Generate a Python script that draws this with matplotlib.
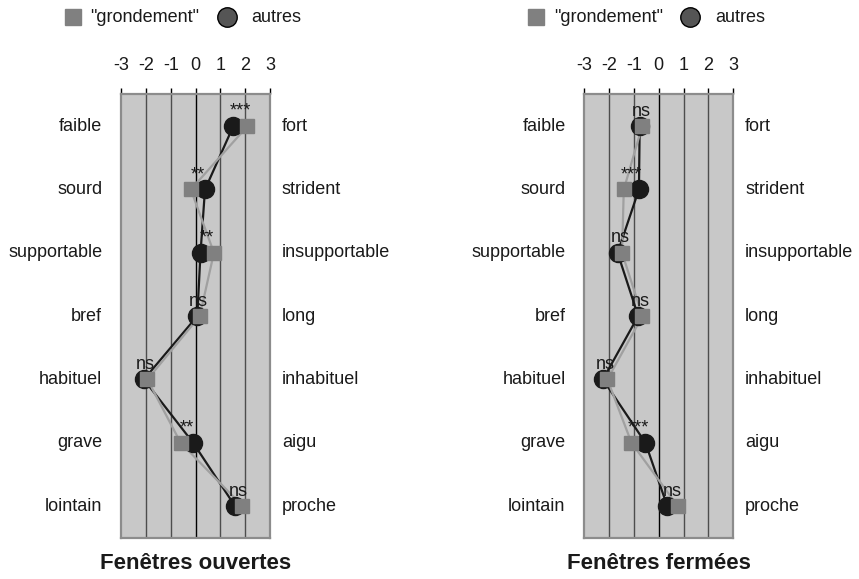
import matplotlib
matplotlib.use("Agg")
import matplotlib.pyplot as plt
from matplotlib.lines import Line2D

plt.rcParams['font.family'] = ['Liberation Sans', 'DejaVu Sans']

# Semantic differential scales
left_words = ["faible", "sourd", "supportable", "bref", "habituel", "grave", "lointain"]
right_words = ["fort", "strident", "insupportable", "long", "inhabituel", "aigu", "proche"]
scale_ticks = [-3, -2, -1, 0, 1, 2, 3]

# Fenêtres ouvertes
open_autres = [1.52, 0.38, 0.20, 0.07, -2.08, -0.10, 1.59]
open_grondement = [2.09, -0.19, 0.74, 0.17, -1.94, -0.60, 1.89]
open_sig = ["***", "**", "**", "ns", "ns", "**", "ns"]

# Fenêtres fermées
closed_autres = [-0.77, -0.80, -1.66, -0.83, -2.25, -0.54, 0.34]
closed_grondement = [-0.67, -1.41, -1.48, -0.66, -2.07, -1.10, 0.76]
closed_sig = ["ns", "***", "ns", "ns", "ns", "***", "ns"]

titles = ["Fenêtres ouvertes", "Fenêtres fermées"]

PANEL = "#c8c8c8"
EDGE = "#8c8c8c"
GRID = "#4d4d4d"
DARK = "#1a1a1a"
SQ = "#808080"
SQLINE = "#a0a0a0"
FS = 13

fig = plt.figure(figsize=(8.59, 5.79), dpi=100)

ax_lefts = [0.1409, 0.6802]
ax_w = 0.1735
ax_b = 0.0713
ax_h = 0.7655

panels = [
    (open_autres, open_grondement, open_sig, titles[0]),
    (closed_autres, closed_grondement, closed_sig, titles[1]),
]

rows = list(range(len(left_words)))

for x0, (autres, gron, sig, title) in zip(ax_lefts, panels):
    ax = fig.add_axes([x0, ax_b, ax_w, ax_h])
    ax.set_facecolor(PANEL)
    ax.set_xlim(-3, 3)
    ax.set_ylim(len(rows) - 0.5, -0.5)

    for v in scale_ticks[1:-1]:
        ax.axvline(v, color="black" if v == 0 else GRID, lw=1.0, zorder=1)

    for s in ax.spines.values():
        s.set_color(EDGE)
        s.set_linewidth(1.6)

    ax.xaxis.tick_top()
    ax.set_xticks(scale_ticks)
    ax.set_xticklabels([str(t) for t in scale_ticks])
    ax.tick_params(axis="x", direction="out", length=4.5, width=1.0,
                   color="black", pad=10, labelsize=FS, labelcolor="#1a1a1a")
    ax.set_yticks([])

    ax.plot(autres, rows, color=DARK, lw=1.6, zorder=3, clip_on=False)
    ax.plot(gron, rows, color=SQLINE, lw=1.6, zorder=3.5, clip_on=False)
    ax.plot(autres, rows, ls="none", marker="o", ms=13, mfc=DARK, mec=DARK,
            zorder=4, clip_on=False)
    ax.plot(gron, rows, ls="none", marker="s", ms=10, mfc=SQ, mec=SQ,
            zorder=5, clip_on=False)

    for r, a, g, s in zip(rows, autres, gron, sig):
        ax.annotate(s, xy=((a + g) / 2, r), xytext=(0, 7.5),
                    textcoords="offset points", ha="center", va="baseline",
                    fontsize=FS, color="#1a1a1a", zorder=6)

    for r, lw_, rw_ in zip(rows, left_words, right_words):
        ax.annotate(lw_, xy=(0, r), xycoords=("axes fraction", "data"),
                    xytext=(-13.5, 0), textcoords="offset points",
                    ha="right", va="center", fontsize=FS, color="#1a1a1a")
        ax.annotate(rw_, xy=(1, r), xycoords=("axes fraction", "data"),
                    xytext=(8.5, 0), textcoords="offset points",
                    ha="left", va="center", fontsize=FS, color="#1a1a1a")

    cx = x0 + ax_w / 2
    fig.text(cx, 0.0276, title, ha="center", va="center",
             fontsize=16, fontweight="bold", color="#1a1a1a")

    # legend row above the panel
    ly = 1 - 17 / 579
    sq_x = x0 - 48 / 859
    ci_x = x0 + 106 / 859
    fig.add_artist(Line2D([sq_x], [ly], transform=fig.transFigure,
                          marker="s", ms=11.5, mfc=SQ, mec=SQ, ls="none"))
    fig.text(sq_x + 17.5 / 859, ly, '"grondement"', ha="left", va="center",
             fontsize=FS, color="#1a1a1a")
    fig.add_artist(Line2D([ci_x], [ly], transform=fig.transFigure,
                          marker="o", ms=14, mfc="#555555", mec="black",
                          mew=1.0, ls="none"))
    fig.text(ci_x + 24.5 / 859, ly, "autres", ha="left", va="center",
             fontsize=FS, color="#1a1a1a")

fig.savefig("out.png", dpi=100)
